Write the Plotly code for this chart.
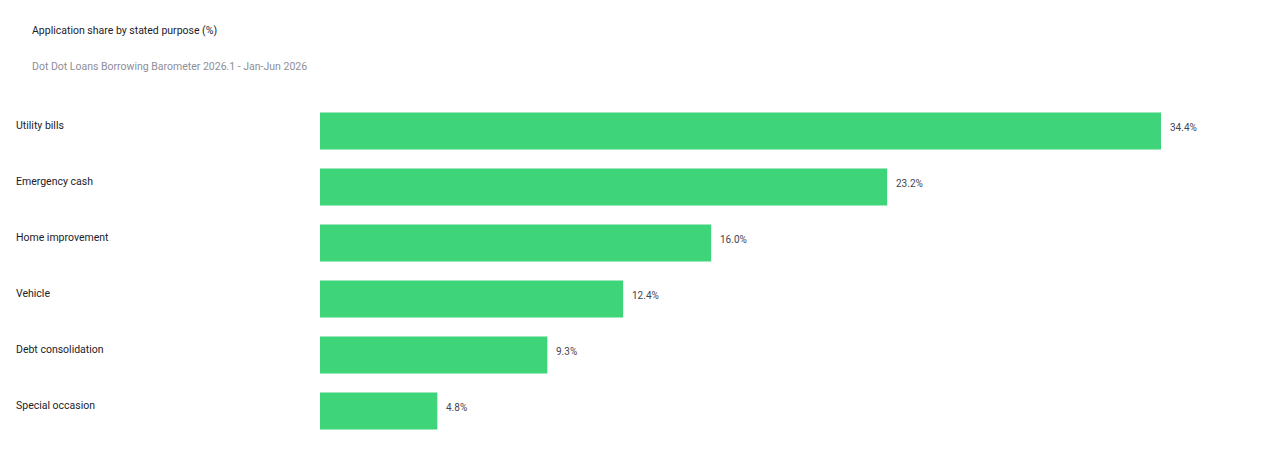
import plotly.graph_objects as go

categories = ["Utility bills", "Emergency cash", "Home improvement", "Vehicle",
              "Debt consolidation", "Special occasion"]
values = [34.4, 23.2, 16.0, 12.4, 9.3, 4.8]
value_labels = ["34.4%", "23.2%", "16.0%", "12.4%", "9.3%", "4.8%"]

title = "Application share by stated purpose (%)"
subtitle = "Dot Dot Loans Borrowing Barometer 2026.1 - Jan-Jun 2026"

FONT = "Roboto, Inter, sans-serif"
BAR = "#3dd47a"

fig = go.Figure()
fig.add_trace(go.Bar(
    x=values, y=categories, orientation="h",
    marker=dict(color=BAR, line=dict(width=0)),
    width=0.66, hoverinfo="skip",
))

annotations = []
for c, v, t in zip(categories, values, value_labels):
    annotations.append(dict(
        x=0, y=c, xref="paper", yref="y", text=c, showarrow=False,
        xanchor="left", yanchor="middle", xshift=-306, yshift=6,
        font=dict(family=FONT, size=10.5, color="#1c1c2a"),
    ))
    annotations.append(dict(
        x=v, y=c, xref="x", yref="y", text=t, showarrow=False,
        xanchor="left", yanchor="middle", xshift=7, yshift=4,
        font=dict(family=FONT, size=10, color="#45454f"),
    ))

annotations.append(dict(
    x=0, y=1, xref="paper", yref="paper", text=title, showarrow=False,
    xanchor="left", yanchor="middle", xshift=-290, yshift=103 - 30,
    font=dict(family=FONT, size=10.5, color="#1c1c2a"),
))
annotations.append(dict(
    x=0, y=1, xref="paper", yref="paper", text=subtitle, showarrow=False,
    xanchor="left", yanchor="middle", xshift=-290, yshift=103 - 66,
    font=dict(family=FONT, size=10.5, color="#8e8e99"),
))

fig.update_layout(
    width=1264, height=456,
    margin=dict(l=312, r=12, t=95, b=25),
    paper_bgcolor="white", plot_bgcolor="white",
    showlegend=False,
    bargap=0.34,
    xaxis=dict(range=[0, 38.45], visible=False, fixedrange=True),
    yaxis=dict(autorange="reversed", visible=False, fixedrange=True),
    annotations=annotations,
    font=dict(family=FONT),
)

fig.write_html("out.html", config={"displayModeBar": False})
